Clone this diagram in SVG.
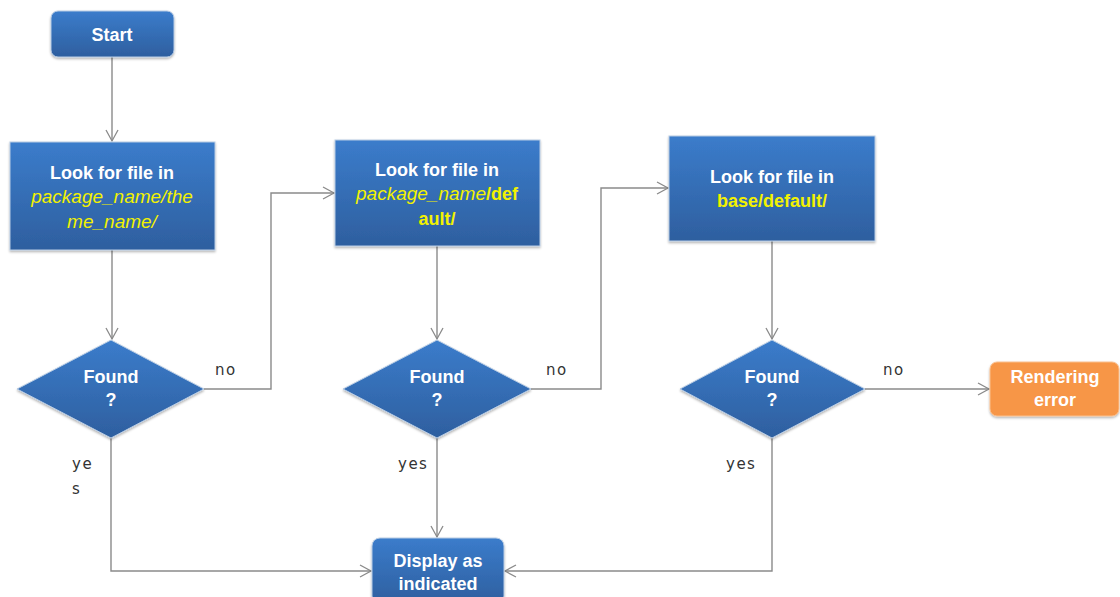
<svg xmlns="http://www.w3.org/2000/svg" width="1120" height="597" viewBox="0 0 1120 597">
<defs>
<linearGradient id="blue" x1="0" y1="0" x2="0" y2="1">
<stop offset="0" stop-color="#3B7CCB"/>
<stop offset="1" stop-color="#2E5F9F"/>
</linearGradient>
<filter id="sh" x="-10%" y="-10%" width="120%" height="130%">
<feDropShadow dx="0" dy="1.5" stdDeviation="1.2" flood-color="#000" flood-opacity="0.3"/>
</filter>
<marker id="arr" markerWidth="14" markerHeight="14" refX="12" refY="7" orient="auto" markerUnits="userSpaceOnUse">
<path d="M1,1 L12,7 L1,13" fill="none" stroke="#8a8a8a" stroke-width="1.3"/>
</marker>
<style>
.box{fill:url(#blue);stroke:#B8CCE4;stroke-width:1;filter:url(#sh)}
.orange{fill:#F79646;stroke:#FAC090;stroke-width:1;filter:url(#sh)}
.t{font-family:"Liberation Sans",Arial,sans-serif;font-weight:bold;font-size:18px;fill:#FFFFFF;text-anchor:middle}
.y{fill:#F2F200}
.i{font-style:italic;font-weight:normal;font-size:19px}
.lbl{font-family:"DejaVu Sans","Liberation Sans",sans-serif;font-size:15px;letter-spacing:1.5px;fill:#333333}
.c{fill:none;stroke:#8a8a8a;stroke-width:1.4}
</style>
</defs>
<g id="connectors">
<path class="c" d="M112,57 V141" marker-end="url(#arr)"/>
<path class="c" d="M112,250 V339" marker-end="url(#arr)"/>
<path class="c" d="M204,389 H271 V193 H334" marker-end="url(#arr)"/>
<path class="c" d="M437,246 V339" marker-end="url(#arr)"/>
<path class="c" d="M531,389 H601 V188 H668" marker-end="url(#arr)"/>
<path class="c" d="M772,241 V339" marker-end="url(#arr)"/>
<path class="c" d="M865,389 H989" marker-end="url(#arr)"/>
<path class="c" d="M111,438 V571 H371" marker-end="url(#arr)"/>
<path class="c" d="M437,438 V537" marker-end="url(#arr)"/>
<path class="c" d="M772,438 V571 H505" marker-end="url(#arr)"/>
<text class="lbl" x="215" y="375">no</text>
<text class="lbl" x="546" y="375">no</text>
<text class="lbl" x="883" y="375">no</text>
<text class="lbl" x="72" y="469">ye</text>
<text class="lbl" x="72" y="494">s</text>
<text class="lbl" x="398" y="469">yes</text>
<text class="lbl" x="726" y="469">yes</text>
</g>
<g id="start">
<rect class="box" x="51" y="11" width="123" height="46" rx="7"/>
<text class="t" x="112" y="41">Start</text>
</g>
<g id="look1">
<rect class="box" x="10" y="142" width="205" height="108"/>
<text class="t" x="112" y="179">Look for file in</text>
<text class="t y i" x="112" y="203">package_name/the</text>
<text class="t y i" x="112" y="228">me_name/</text>
</g>
<g id="found1">
<polygon class="box" points="111,340 204,389 111,438 17,389"/>
<text class="t" x="111" y="383">Found</text>
<text class="t" x="111" y="406">?</text>
</g>
<g id="look2">
<rect class="box" x="335" y="140" width="205" height="106"/>
<text class="t" x="437" y="176">Look for file in</text>
<text class="t y" x="437" y="200"><tspan class="i">package_name</tspan>/def</text>
<text class="t y" x="437" y="225">ault/</text>
</g>
<g id="found2">
<polygon class="box" points="437,340 531,389 437,438 343,389"/>
<text class="t" x="437" y="383">Found</text>
<text class="t" x="437" y="406">?</text>
</g>
<g id="look3">
<rect class="box" x="669" y="136" width="206" height="105"/>
<text class="t" x="772" y="183">Look for file in</text>
<text class="t y" x="772" y="207">base/default/</text>
</g>
<g id="found3">
<polygon class="box" points="772,340 865,389 772,438 680,389"/>
<text class="t" x="772" y="383">Found</text>
<text class="t" x="772" y="406">?</text>
</g>
<g id="error">
<rect class="orange" x="990" y="362" width="129" height="54" rx="7"/>
<text class="t" x="1055" y="383">Rendering</text>
<text class="t" x="1055" y="406">error</text>
</g>
<g id="display">
<rect class="box" x="372" y="538" width="132" height="66" rx="8"/>
<text class="t" x="438" y="567">Display as</text>
<text class="t" x="438" y="590">indicated</text>
</g>
</svg>
